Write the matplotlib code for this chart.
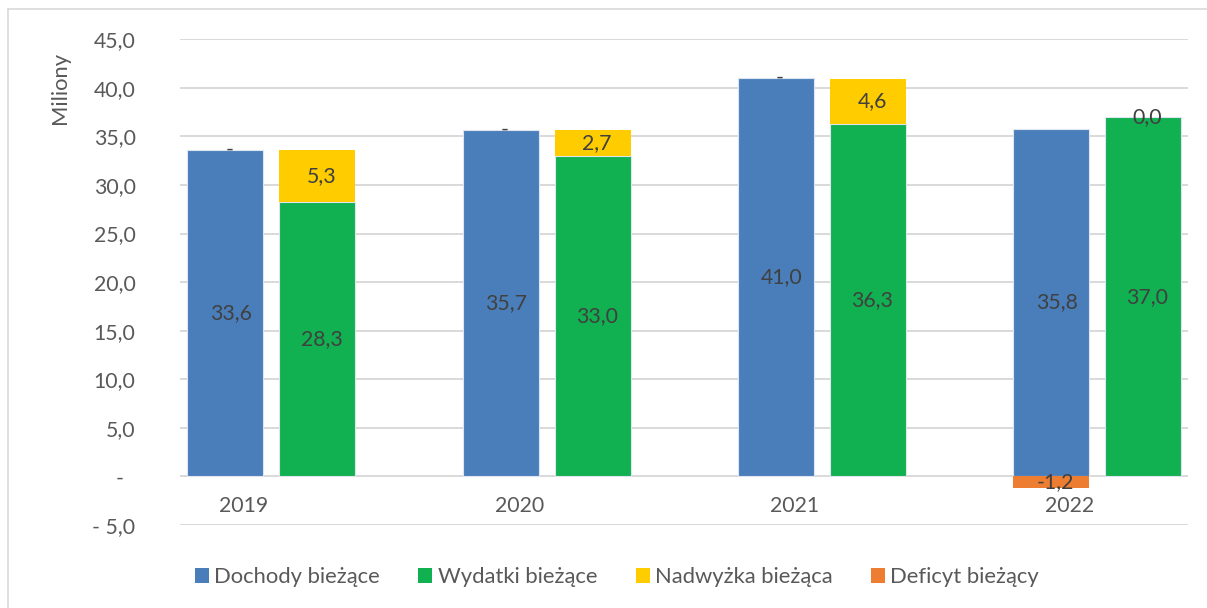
import numpy as np
import matplotlib
matplotlib.use("Agg")
import matplotlib.pyplot as plt
from matplotlib.patches import Patch
from matplotlib.lines import Line2D
import matplotlib.transforms as mtransforms

plt.rcParams['font.family'] = ['Lato', 'DejaVu Sans']

# ---- data ----
years = ["2019", "2020", "2021", "2022"]
dochody = [33.6, 35.7, 41.0, 35.8]
wydatki = [28.3, 33.0, 36.3, 37.0]
nadwyzka = [5.3, 2.7, 4.6, 0.0]
deficyt = [0.0, 0.0, 0.0, -1.2]
dochody_lbl = ["33,6", "35,7", "41,0", "35,8"]
wydatki_lbl = ["28,3", "33,0", "36,3", "37,0"]
nadwyzka_lbl = ["5,3", "2,7", "4,6", "0,0"]
deficyt_lbl = ["-", "-", "-", "-1,2"]
series_names = ["Dochody bieżące", "Wydatki bieżące", "Nadwyżka bieżąca", "Deficyt bieżący"]
yticks = [-5, 0, 5, 10, 15, 20, 25, 30, 35, 40, 45]
ytick_lbls = ["- 5,0", "-", "5,0", "10,0", "15,0", "20,0", "25,0", "30,0", "35,0", "40,0", "45,0"]

c_blue = "#4A7EBB"
c_green = "#11B050"
c_yellow = "#FFCC00"
c_orange = "#ED7D31"
txt = "#404040"
tick_c = "#595959"
grid_c = "#D9D9D9"

W, H = 1207, 608
fig = plt.figure(figsize=(W / 100, H / 100), dpi=100)
ax = fig.add_axes([180 / W, 1 - 525 / H, (1188 - 180) / W, (525 - 39.3) / H])

x = np.arange(len(years))
off_b, off_g, bw = -0.068, 0.266, 0.276

d = np.array(dochody)
w = np.array(wydatki)
n = np.array(nadwyzka)
f = np.array(deficyt)

edge_kw = dict(edgecolor="#DDE6F0", linewidth=0.8)
ax.bar(x + off_b, d, bw, color=c_blue, zorder=3, **edge_kw)
f_bottom = np.where(f >= 0, d, 0)
ax.bar(x + off_b, f, bw, bottom=f_bottom, color=c_orange, zorder=3, linewidth=0)
ax.bar(x + off_g, w, bw, color=c_green, zorder=3, **edge_kw)
ax.bar(x + off_g, n, bw, bottom=w, color=c_yellow, zorder=3, linewidth=0)

fs = 15.3
for i in range(len(years)):
    ax.text(x[i] + off_b + 0.02, d[i] / 2, dochody_lbl[i], ha="center", va="center", color=txt, fontsize=fs, zorder=5)
    ax.text(x[i] + off_g + 0.015, w[i] / 2, wydatki_lbl[i], ha="center", va="center", color=txt, fontsize=fs, zorder=5)
    ax.text(x[i] + off_g + 0.015, w[i] + n[i] / 2, nadwyzka_lbl[i], ha="center", va="center", color=txt, fontsize=fs, zorder=5)
    ax.text(x[i] + off_b + 0.015, f_bottom[i] + f[i] / 2, deficyt_lbl[i], ha="center", va="center", color=txt, fontsize=fs, zorder=5)

ax.set_xlim(-0.2325, 3.4286)
ax.set_ylim(-5, 45)
ax.set_yticks(yticks)
ax.set_yticklabels(ytick_lbls)
ax.set_xticks(x)
ax.set_xticklabels(years)

for s in ["top", "right", "left"]:
    ax.spines[s].set_visible(False)
ax.spines["bottom"].set_position(("data", 0))
ax.spines["bottom"].set_visible(False)

ax.yaxis.grid(True, color=grid_c, linewidth=1.4)
ax.set_axisbelow(True)
ax.tick_params(axis="y", length=0, pad=32, labelsize=fs, labelcolor=tick_c)
ax.tick_params(axis="x", length=0, pad=14, labelsize=fs, labelcolor=tick_c)

# shift the "-" zero tick label left (accounting format padding)
for lbl in ax.get_yticklabels():
    if lbl.get_text() == "-":
        lbl.set_transform(lbl.get_transform() + mtransforms.ScaledTranslation(-12 / 100, 0, fig.dpi_scale_trans))

fig.text(60 / W, 1 - 88 / H, "Miliony", rotation=90, ha="center", va="center", color=tick_c, fontsize=15.8)

handles = [Patch(facecolor=c, edgecolor="none") for c in [c_blue, c_green, c_yellow, c_orange]]
fig.legend(handles, series_names, loc="center", bbox_to_anchor=(617 / W, 1 - 577 / H), ncol=4,
           frameon=False, fontsize=15.8, labelcolor=tick_c, handlelength=0.64, handleheight=0.64,
           handletextpad=0.24, columnspacing=1.75, borderpad=0)

# outer chart border (left and top visible)
fig.add_artist(Line2D([8 / W, 8 / W], [0, 1 - 9 / H], transform=fig.transFigure, color=grid_c, linewidth=1.2))
fig.add_artist(Line2D([8 / W, 1], [1 - 9 / H, 1 - 9 / H], transform=fig.transFigure, color=grid_c, linewidth=1.2))

fig.savefig("out.png", dpi=100, facecolor="white")
